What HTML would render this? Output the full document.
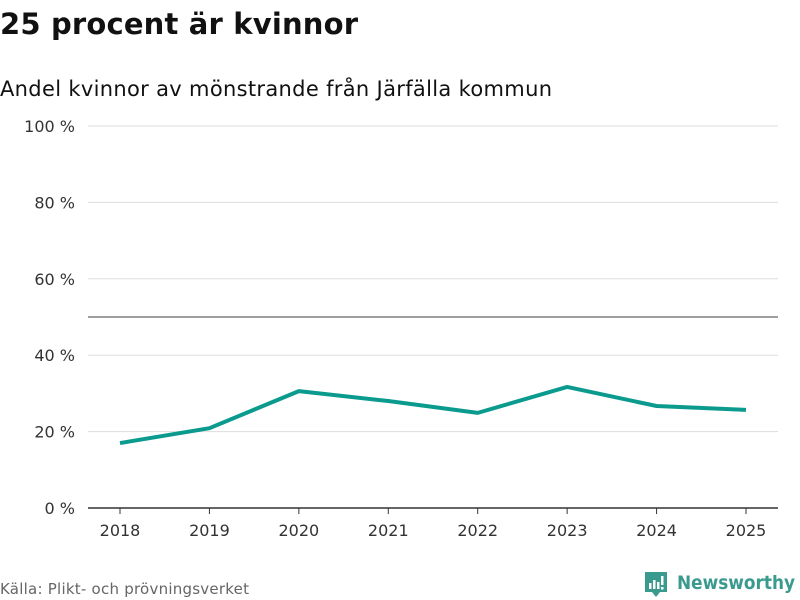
<!DOCTYPE html>
<html><head><meta charset="utf-8"><style>
body{margin:0;background:#fff;font-family:"DejaVu Sans","Liberation Sans",sans-serif;}
#c{position:relative;width:800px;height:600px;overflow:hidden}
</style></head><body>
<div id="c">
<svg width="800" height="600">
<text x="0" y="34" font-size="29" font-weight="bold" fill="#111" textLength="358">25 procent är kvinnor</text>
<text x="0" y="96" font-size="21" fill="#111" textLength="552">Andel kvinnor av mönstrande från Järfälla kommun</text>
<g id="grid"></g><g id="xt"></g><g id="series"></g>
<text x="0" y="594" font-size="15" fill="#666" textLength="249">Källa: Plikt- och prövningsverket</text>
<g>
<path d="M645 572 h22 v20 h-7 l-4 5 l-4 -5 h-7 z" fill="#3a9a8e"/>
<rect x="649" y="583" width="2.5" height="6" fill="#fff"/><rect x="653" y="580" width="2.5" height="9" fill="#fff"/><rect x="657" y="582" width="2.5" height="7" fill="#fff"/><rect x="661" y="576" width="2.5" height="9" fill="#fff"/><rect x="661" y="587" width="2.5" height="2.5" fill="#fff"/>
<text x="677" y="589" font-size="19" font-weight="bold" fill="#3a9a8e" textLength="118" lengthAdjust="spacingAndGlyphs">Newsworthy</text>
</g>
</svg></div>
<script>
const years=["2018","2019","2020","2021","2022","2023","2024","2025"];
const values=[17.0,20.9,30.6,28.0,24.9,31.7,26.7,25.7];
const yTicks=[0,20,40,60,80,100];
const refValue=50;
const NS="http://www.w3.org/2000/svg";
const x0=88,x1=778,y0=508,y1=126;
const xs=i=>120+i*(746-120)/(years.length-1);
const ys=v=>y0-(v/100)*(y0-y1);
function mk(t,a,p){const e=document.createElementNS(NS,t);for(const k in a)e.setAttribute(k,a[k]);p.appendChild(e);return e;}
const g=document.getElementById('grid');
yTicks.forEach(v=>{
 const l=mk('line',{x1:x0,x2:x1,y1:ys(v),y2:ys(v),stroke:v===0?'#333':'#ddd','stroke-width':v===0?1.5:1},g);
 
 
 const t=mk('text',{x:75,y:ys(v)+6,'text-anchor':'end','font-size':16,fill:'#333'},g);
 t.textContent=v+' %';
 
 
});
const r=mk('line',{x1:x0,x2:x1,y1:ys(refValue),y2:ys(refValue),stroke:'#666','stroke-width':1.3},g);


const xt=document.getElementById('xt');
years.forEach((y,i)=>{
 mk('line',{x1:xs(i),x2:xs(i),y1:y0,y2:y0+6,stroke:'#333'},xt);
 const t=mk('text',{x:xs(i),y:536,'text-anchor':'middle','font-size':16,fill:'#333'},xt);
 t.textContent=y;
 
 
});
const p=mk('polyline',{points:values.map((v,i)=>xs(i)+','+ys(v)).join(' '),fill:'none',stroke:'#0a9b8e','stroke-width':4,'stroke-linejoin':'round'},document.getElementById('series'));


</script>
</body></html>
